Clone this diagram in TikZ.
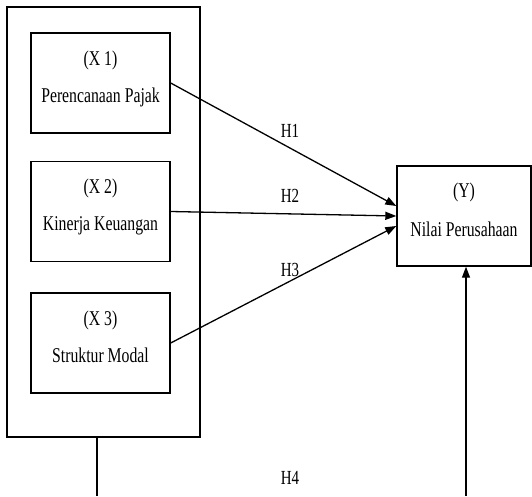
\documentclass[tikz,border=0pt]{standalone}
\usepackage{fontspec}
\setmainfont{Liberation Serif}[FakeStretch=0.75]
\usetikzlibrary{arrows.meta}
\begin{document}
\begin{tikzpicture}[x=1pt, y=1pt,
    box/.style={draw, line width=1.4pt, rectangle, minimum width=139pt, minimum height=100pt,
                text centered, align=center, text depth=13pt, font=\fontsize{21}{25}\selectfont},
    hyp/.style={font=\fontsize{20}{24}\selectfont},
    link/.style={-{Triangle[length=11pt, width=8pt]}, line width=1.3pt}]
    \useasboundingbox (0,0) rectangle (532,496);
    \node[draw, line width=1.4pt, minimum width=193pt, minimum height=430pt] (grp) at (103.5, 274) {};
    \node[box] (x1) at (100.5, 413)   {(X 1)\\[12pt]Perencanaan Pajak};
    \node[box] (x2) at (100.5, 284.5) {(X 2)\\[12pt]Kinerja Keuangan};
    \node[box] (x3) at (100.5, 153)   {(X 3)\\[12pt]Struktur Modal};
    \node[box, minimum width=134pt] (y) at (464, 280) {(Y)\\[14pt]Nilai Perusahaan};
    \foreach \i/\s/\ly in {1/10/365, 2/0/300, 3/-10/226} {
        \draw[link] (x\i.east) -- ([yshift=\s pt]y.west);
        \node[hyp] (h\i) at (290, \ly) {H\i};
    }
    \coordinate (gbot) at (97, 0);
    \coordinate (ybot) at (466, 0);
    \draw[line width=1.3pt] (grp.south -| gbot) -- (gbot);
    \draw[link] (ybot) -- (y.south -| ybot);
    \node[hyp] (h4) at (290, 18) {H4};
\end{tikzpicture}
\end{document}
